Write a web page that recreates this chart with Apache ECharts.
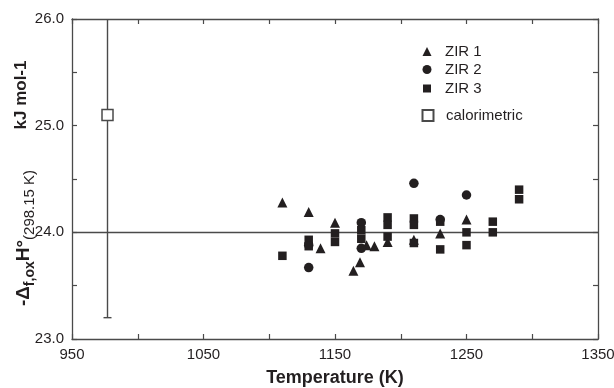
<!DOCTYPE html>
<html>
<head>
<meta charset="utf-8">
<script src="https://cdn.jsdelivr.net/npm/echarts@6/dist/echarts.min.js"></script>
<style>
  html, body { margin: 0; padding: 0; background: #fff; }
  #main { width: 614px; height: 388px; }
</style>
</head>
<body>
<div id="main"></div>
<script>
// ZIR 1 (triangles)
var zir1T = [1110, 1130, 1139, 1150, 1164, 1169, 1174, 1180, 1190, 1210, 1230, 1250];
var zir1H = [24.28, 24.19, 23.85, 24.09, 23.64, 23.72, 23.88, 23.87, 23.91, 23.93, 23.99, 24.12];
// ZIR 2 (circles)
var zir2T = [1130, 1130, 1170, 1170, 1210, 1230, 1250];
var zir2H = [23.67, 23.88, 24.09, 23.85, 24.46, 24.12, 24.35];
// ZIR 3 (squares)
var zir3T = [1110, 1130, 1130, 1150, 1150, 1170, 1170, 1190, 1190, 1190, 1210, 1210, 1210, 1230, 1230, 1250, 1250, 1270, 1270, 1290, 1290];
var zir3H = [23.78, 23.93, 23.87, 23.99, 23.91, 24.02, 23.94, 24.14, 24.07, 23.96, 24.13, 24.07, 23.90, 24.10, 23.84, 24.00, 23.88, 24.10, 24.00, 24.40, 24.31];
// calorimetric value with error bar
var caloT = [977];
var caloH = [25.1];
var caloLow = [23.2];
var caloHigh = [27.0];
// mean line
var meanH = 24.0;
// tick labels
var xLabels = [950, 1050, 1150, 1250, 1350];
var yLabels = [23, 24, 25, 26];

var FONT = '"Liberation Sans", Arial, sans-serif';
var INK = '#231f20';
var AXIS = '#4a4a4a';

function pairs(xs, ys) {
  var out = [];
  for (var i = 0; i < xs.length; i++) out.push([xs[i], ys[i]]);
  return out;
}

var myChart = echarts.init(document.getElementById('main'));

var axisLine = { show: true, lineStyle: { color: AXIS, width: 1.3 } };
var axisTick = { show: true, inside: true, length: 5, lineStyle: { color: AXIS, width: 1.2 } };

// one legend per entry so the uneven spacing can be kept
function legendItem(name, top, icon, size) {
  return {
    data: [{ name: name, icon: icon }],
    left: 427 - size / 2,
    top: top,
    padding: 0,
    itemWidth: size,
    itemHeight: size,
    textStyle: { fontFamily: FONT, fontSize: 15, color: INK, padding: [0, 0, 0, 13 - size / 2] }
  };
}

var option = {
  animation: false,
  backgroundColor: '#fff',
  grid: { left: 72, right: 16, top: 19, bottom: 49, outerBoundsMode: 'none', containLabel: false },
  legend: [
    legendItem('ZIR 1', 44, 'triangle', 9),
    legendItem('ZIR 2', 62, 'circle', 9),
    legendItem('ZIR 3', 81, 'rect', 8),
    legendItem('calorimetric', 108, 'rect', 11)
  ],
  xAxis: [{
    type: 'value', min: 950, max: 1350, interval: 50, position: 'bottom',
    axisLine: axisLine, axisTick: axisTick, splitLine: { show: false },
    axisLabel: {
      margin: 8, fontFamily: FONT, fontSize: 15, color: INK,
      formatter: function (v) { return xLabels.indexOf(v) >= 0 ? String(v) : ''; }
    },
    name: 'Temperature (K)', nameLocation: 'middle', nameGap: 30,
    nameTextStyle: { fontFamily: FONT, fontSize: 18, fontWeight: 'bold', color: INK }
  }, {
    type: 'value', min: 950, max: 1350, interval: 50, position: 'top',
    axisLine: axisLine, axisTick: axisTick, splitLine: { show: false },
    axisLabel: { show: false }
  }],
  yAxis: [{
    type: 'value', min: 23, max: 26, interval: 0.5, position: 'left',
    axisLine: axisLine, axisTick: axisTick, splitLine: { show: false },
    axisLabel: {
      margin: 8, fontFamily: FONT, fontSize: 15, color: INK,
      formatter: function (v) { return yLabels.indexOf(v) >= 0 ? v.toFixed(1) : ''; }
    }
  }, {
    type: 'value', min: 23, max: 26, interval: 0.5, position: 'right',
    axisLine: axisLine, axisTick: axisTick, splitLine: { show: false },
    axisLabel: { show: false }
  }],
  graphic: [{
    type: 'text', x: 21, y: 95, rotation: Math.PI / 2,
    style: {
      text: 'kJ mol-1', font: 'bold 17px ' + FONT, fill: INK,
      align: 'center', verticalAlign: 'middle'
    }
  }, {
    type: 'text', x: 24, y: 238, rotation: Math.PI / 2,
    style: {
      text: '{m|-Δ}{s|f,ox}{m|H°}{r|(298.15 K)}',
      align: 'center', verticalAlign: 'middle', fill: INK,
      rich: {
        m: { fontFamily: FONT, fontSize: 19, fontWeight: 'bold', fill: INK, lineHeight: 26, verticalAlign: 'middle' },
        s: { fontFamily: FONT, fontSize: 14, fontWeight: 'bold', fill: INK, lineHeight: 12, verticalAlign: 'bottom' },
        r: { fontFamily: FONT, fontSize: 15, fill: INK, lineHeight: 12, verticalAlign: 'bottom' }
      }
    }
  }],
  series: [{
    name: 'calorimetric-bar',
    type: 'custom',
    clip: true,
    z: 3,
    data: caloT.map(function (t, i) { return [t, caloH[i], caloLow[i], caloHigh[i]]; }),
    renderItem: function (params, api) {
      var lo = api.coord([api.value(0), api.value(2)]);
      var hi = api.coord([api.value(0), api.value(3)]);
      var top = Math.max(hi[1], params.coordSys.y);
      var st = { stroke: AXIS, lineWidth: 1.4 };
      return {
        type: 'group',
        children: [
          { type: 'line', shape: { x1: lo[0], y1: lo[1], x2: lo[0], y2: top }, style: st },
          { type: 'line', shape: { x1: lo[0] - 4, y1: lo[1], x2: lo[0] + 4, y2: lo[1] }, style: st }
        ]
      };
    }
  }, {
    name: 'ZIR 1', type: 'scatter', symbol: 'triangle', symbolSize: 10, z: 5,
    itemStyle: { color: INK, opacity: 1 },
    data: pairs(zir1T, zir1H)
  }, {
    name: 'ZIR 2', type: 'scatter', symbol: 'circle', symbolSize: 9.5, z: 5,
    itemStyle: { color: INK, opacity: 1 },
    data: pairs(zir2T, zir2H)
  }, {
    name: 'ZIR 3', type: 'scatter', symbol: 'rect', symbolSize: 8.5, z: 5,
    itemStyle: { color: INK, opacity: 1 },
    data: pairs(zir3T, zir3H),
    markLine: {
      silent: true, symbol: 'none', z: 2,
      label: { show: false },
      lineStyle: { color: AXIS, width: 1.4, type: 'solid' },
      data: [{ yAxis: meanH }]
    }
  }, {
    name: 'calorimetric', type: 'scatter', symbol: 'rect', symbolSize: 11, z: 6,
    itemStyle: { color: '#fff', borderColor: AXIS, borderWidth: 1.5, opacity: 1 },
    data: pairs(caloT, caloH)
  }]
};

myChart.setOption(option);
</script>
</body>
</html>
